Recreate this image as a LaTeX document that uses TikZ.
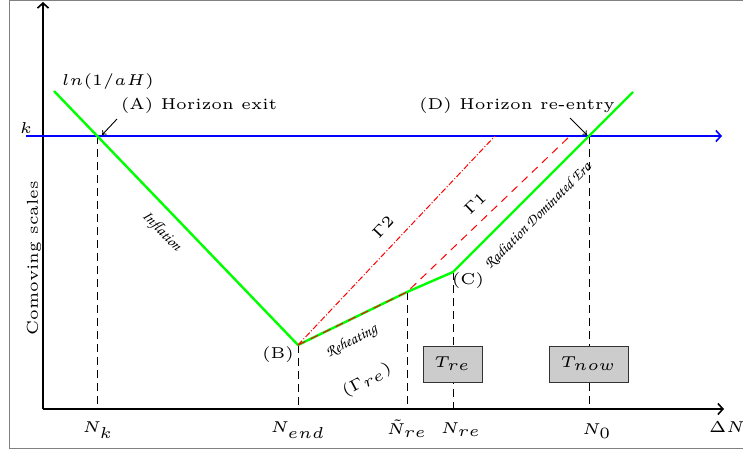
\documentclass[tikz,border=0pt]{standalone}
\usetikzlibrary{arrows.meta}
\begin{document}
\begin{tikzpicture}[x=1pt,y=-1pt,
  lbl/.style={font=\tiny, scale=3.15, inner sep=0pt},
  scr/.style={font=\tiny\usefont{OT1}{pzc}{mb}{it}, scale=3.1, inner sep=0pt},
  axis/.style={line width=2.4pt, -{Straight Barb[length=5pt,width=11pt,line width=1.6pt]}},
  kline/.style={blue, line width=2.4pt, -{Straight Barb[length=5pt,width=11pt,line width=1.6pt]}},
  evol/.style={green, line width=2.4pt, line join=round},
  vdash/.style={line width=1pt, dash pattern=on 8pt off 5pt},
  gone/.style={red, line width=1pt, dash pattern=on 8pt off 6pt},
  gtwo/.style={red, line width=1pt, dash pattern=on 6pt off 2pt on 1pt off 2pt},
  pointer/.style={line width=0.9pt, -{To[length=4pt,width=6pt]}},
  tbox/.style={draw=black!80, line width=1pt, fill=black!20, minimum height=36pt, inner sep=0pt},
  frame/.style={draw=black!50, line width=1pt}]
\useasboundingbox (0,0) rectangle (743,452);
% frame
\coordinate (F1) at (760,1); \coordinate (F2) at (9,1);
\coordinate (F3) at (9,448); \coordinate (F4) at (760,448);
\draw[frame] (F1) -- (F2) -- (F3) -- (F4);
% coordinates
\coordinate (O) at (43,409);
\coordinate (Ytop) at (43,2);
\coordinate (Xend) at (724,409);
\coordinate (Kstart) at (26,136);
\coordinate (Kend) at (722,136);
\coordinate (P0) at (54,91);
\coordinate (A) at (97.5,136);
\coordinate (B) at (298,345);
\coordinate (Nt) at (407,292);
\coordinate (C) at (453,272);
\coordinate (D) at (589,136);
\coordinate (P1) at (633,92);
\coordinate (G2) at (495,136);
\coordinate (G1) at (570,136);
\coordinate (Ak) at (97.5,409);
\coordinate (Bk) at (298,409);
\coordinate (Ntk) at (407,409);
\coordinate (Ck) at (453,409);
\coordinate (Dk) at (589,409);
\coordinate (Aa) at (117,119);
\coordinate (Ab) at (102,135);
\coordinate (Da) at (570,118);
\coordinate (Db) at (587,135);
% dashed verticals
\draw[vdash] (A) -- (Ak);
\draw[vdash] (B) -- (Bk);
\draw[vdash] (Nt) -- (Ntk);
\draw[vdash] (C) -- (Ck);
\draw[vdash] (D) -- (Dk);
% axes
\draw[axis] (O) -- (Ytop);
\draw[axis] (O) -- (Xend);
% k line
\draw[kline] (Kstart) -- (Kend);
% evolution
\draw[evol] (P0) -- (B) -- (Nt) -- (C) -- (P1);
% gamma lines
\draw[gtwo] (B) -- (G2);
\draw[gone] (B) -- (Nt) -- (G1);
% pointers
\draw[pointer] (Aa) -- (Ab);
\draw[pointer] (Da) -- (Db);
% boxes
\node[tbox, minimum width=59pt] (Tre) at (452.5,364) {\scalebox{3.15}{\tiny $T_{re}$}};
\node[tbox, minimum width=79pt] (Tnow) at (588.5,364) {\scalebox{3.15}{\tiny $T_{now}$}};
% labels
\node[lbl] (lnaH) at (108,82) {$ln(1/aH)$};
\node[lbl] (Alab) at (199,106) {(A) Horizon exit};
\node[lbl] (Dlab) at (517,106) {(D) Horizon re-entry};
\node[lbl] (klab) at (26,128) {$k$};
\node[lbl, rotate=90] (ylab) at (34,258) {Comoving scales};
\node[scr, rotate=-46] (infl) at (161,232) {Inflation};
\node[lbl, rotate=47] (g2lab) at (383,227) {$\Gamma 2$};
\node[lbl, rotate=44] (g1lab) at (475,203) {$\Gamma 1$};
\node[scr, rotate=45] (rad) at (538,216) {Radiation Dominated Era};
\node[scr, rotate=28] (reh) at (352,342) {Reheating};
\node[lbl, rotate=28] (grelab) at (367,380) {$(\Gamma_{re})$};
\node[lbl] (Blab) at (278,355) {(B)};
\node[lbl] (Clab) at (468,281) {(C)};
\node[lbl] (Nk) at (98,430) {$N_k$};
\node[lbl] (Nend) at (298,430) {$N_{end}$};
\node[lbl] (Ntre) at (407,429) {$\tilde{N}_{re}$};
\node[lbl] (Nre) at (461,430) {$N_{re}$};
\node[lbl] (N0) at (597,431) {$N_0$};
\node[lbl] (dN) at (727,427) {$\Delta N$};
\end{tikzpicture}
\end{document}
